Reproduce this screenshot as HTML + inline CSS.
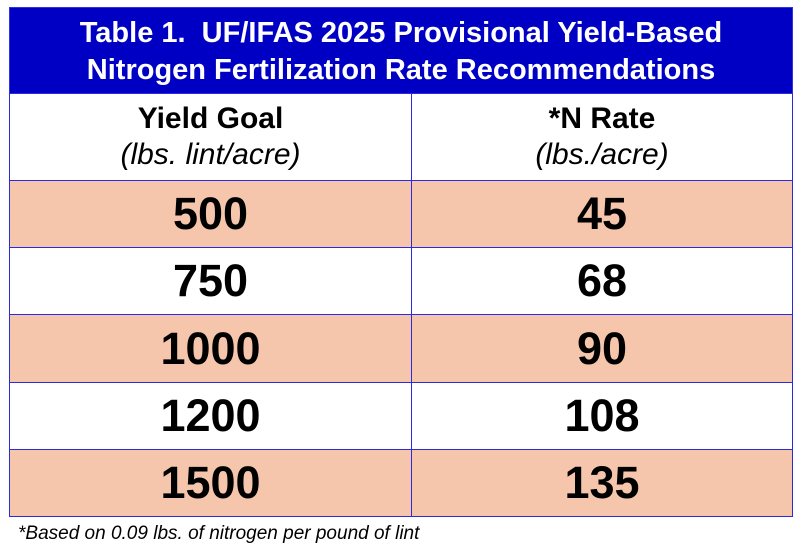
<!DOCTYPE html>
<html><head><meta charset="utf-8"><style>
body{margin:0;width:800px;height:550px;background:#fff;font-family:"Liberation Sans",sans-serif;position:relative;overflow:hidden}
.a{position:absolute;box-sizing:border-box}
.title{left:9px;top:7px;width:784px;height:87px;background:#0000c4;color:#fff;font-weight:bold;font-size:29px;text-align:center;line-height:37px;padding-top:7px;border:1px solid #3030e0;white-space:nowrap}
.cell{display:flex;align-items:center;justify-content:center;flex-direction:column;border:1px solid #2a2ae0;text-align:center;color:#000}
.big{font-size:45px;font-weight:bold}
.h1{font-size:30px;font-weight:bold;line-height:36px}
.h2{font-size:30px;font-style:italic;line-height:36px}
.p{background:#f5c6ab}
.foot{left:18px;top:523px;font-size:19px;font-style:italic;white-space:nowrap}
</style></head><body>
<div class="a title">Table 1.&nbsp; UF/IFAS 2025 Provisional Yield-Based<br>Nitrogen Fertilization Rate Recommendations</div>
<div class="a cell" style="left:9px;top:93px;width:403px;height:88px"><div class="h1">Yield Goal</div><div class="h2">(lbs. lint/acre)</div></div>
<div class="a cell" style="left:411px;top:93px;width:382px;height:88px"><div class="h1">*N Rate</div><div class="h2">(lbs./acre)</div></div>
<div id="rows"></div>
<div class="a foot">*Based on 0.09 lbs. of nitrogen per pound of lint</div>
<script>
const yields=["500","750","1000","1200","1500"];
const rates=["45","68","90","108","135"];
const tops=[180,247,314,382,449];
const root=document.getElementById('rows');
yields.forEach((y,i)=>{
  const h=(i<4?tops[i+1]:516)-tops[i]+1;
  [[y,9,403,'yield'],[rates[i],411,382,'rate']].forEach(([t,l,w,n])=>{
    const d=document.createElement('div');
    d.className='a cell big'+(i%2===0?' p':'');
    d.style.cssText=`left:${l}px;top:${tops[i]}px;width:${w}px;height:${h}px`;
    d.textContent=t;
    
    
    root.appendChild(d);
  });
});
</script>
</body></html>
